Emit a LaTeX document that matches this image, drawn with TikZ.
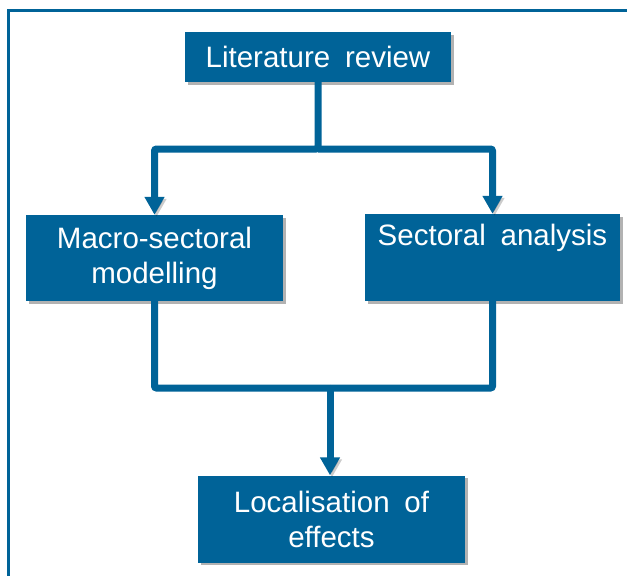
\documentclass[tikz,border=0pt]{standalone}
\usepackage{fontspec}
\setmainfont{Liberation Sans}[WordSpace=1.8]
\usetikzlibrary{arrows.meta,shadows}
\definecolor{flowblue}{RGB}{0,99,152}
\tikzset{
  stage/.style={fill=flowblue,text=white,align=center,inner sep=0pt,
    font=\fontsize{29.5}{35}\selectfont,
    drop shadow={shadow xshift=2.5pt,shadow yshift=-2.5pt,opacity=0.3,fill=black}},
  link/.style={draw=flowblue,line width=7pt,rounded corners=2pt,
    preaction={draw=black,opacity=0.2,transform canvas={shift={(2pt,-2pt)}}}},
  flow/.style={link,-{Triangle[width=19pt,length=18pt]}}
}
\begin{document}
\begin{tikzpicture}[line cap=butt,line join=miter,x=1pt,y=-1pt]
\useasboundingbox (0,0) rectangle (627,576);
\draw [flowblue,line width=2.5pt] (8.5,580) -- (8.5,10.5) -- (627,10.5);
\node [stage,minimum width=266pt,minimum height=50pt] (lit) at (318,57) {Literature review};
\node [stage,minimum width=257pt,minimum height=86pt] (macro) at (154.5,258) {Macro-sectoral\\modelling};
\node [stage,minimum width=255pt,minimum height=87pt] (sect) at (492.5,257.5) {Sectoral analysis\\\strut};
\node [stage,minimum width=267pt,minimum height=87pt] (loc) at (331.5,519) {Localisation of\\effects};
\coordinate (split) at (318,149);
\coordinate (join) at (330,388);
\draw [flow] (lit) -- (split) -| (macro);
\draw [flow] (split) -| (sect);
\draw [link] (macro) |- (join);
\draw [link] (sect) |- (join);
\draw [flow] (join) -- (join |- loc.north);
\end{tikzpicture}
\end{document}
